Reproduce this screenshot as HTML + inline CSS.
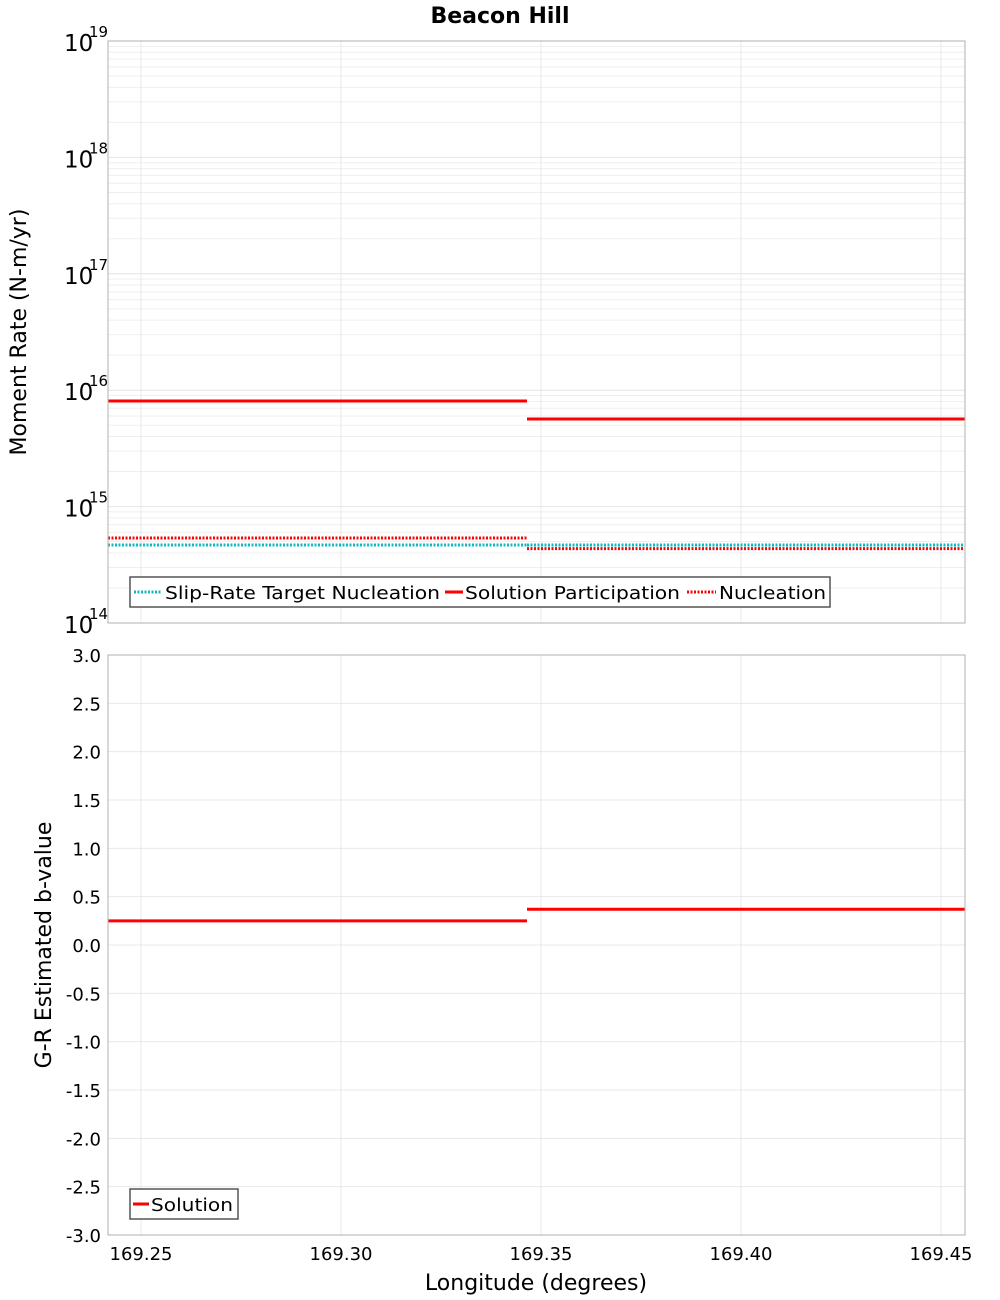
<!DOCTYPE html>
<html><head><meta charset="utf-8"><style>
body{margin:0;background:#fff;width:1000px;height:1300px;overflow:hidden;position:relative}
text{font-family:"DejaVu Sans","Liberation Sans",sans-serif}
</style></head><body>
<svg id="chart" width="1000" height="1300" xmlns="http://www.w3.org/2000/svg" style="position:absolute;left:0;top:0">
<text x="500" y="23" text-anchor="middle" font-size="22" font-weight="bold">Beacon Hill</text>
<g id="topG"></g><g id="botG"></g>
</svg>
<script>
const segStarts=[169.24175,169.3465];
const segEnds=[169.3465,169.456];
const participation=[8.07e15,5.66e15];
const nucleation=[5.37e14,4.35e14];
const targetNucleation=[4.68e14,4.68e14];
const bValues=[0.25,0.37];
const xTicks=[169.25,169.30,169.35,169.40,169.45];
const xTickLabels=["169.25","169.30","169.35","169.40","169.45"];
const yTicksB=[3,2.5,2,1.5,1,0.5,0,-0.5,-1,-1.5,-2,-2.5,-3];
const decades=[14,15,16,17,18,19];

const NS="http://www.w3.org/2000/svg";
const L=108,R=965,T1=41,B1=623,T2=655,B2=1235;
const xMin=169.24175,xMax=169.456;
const xs=v=>L+(v-xMin)/(xMax-xMin)*(R-L);
const ys1=v=>B1-(Math.log10(v)-14)/5*(B1-T1);
const ys2=v=>T2+(3-v)/6*(B2-T2);
function el(p,tag,a,txt){const e=document.createElementNS(NS,tag);for(const k in a)e.setAttribute(k,a[k]);if(txt!==undefined)e.textContent=txt;p.appendChild(e);return e;}
const topG=document.getElementById('topG'),botG=document.getElementById('botG');

for(let d=14;d<19;d++)for(let m=1;m<10;m++){const y=ys1(m*Math.pow(10,d));
 const g=el(topG,'line',{x1:L,x2:R,y1:y,y2:y,stroke:m==1?'#e4e4e4':'#efefef','stroke-width':1});
 
 }
for(const t of xTicks){for(const [p,a,b] of [[topG,T1,B1],[botG,T2,B2]]){
 const g=el(p,'line',{x1:xs(t),x2:xs(t),y1:a,y2:b,stroke:'#e8e8e8'});
 
 }}
for(const v of yTicksB){const g=el(botG,'line',{x1:L,x2:R,y1:ys2(v),y2:ys2(v),stroke:'#e8e8e8'});
 
 
 const t=el(botG,'text',{x:101,y:ys2(v)+7,'text-anchor':'end','font-size':18},v.toFixed(1));
 
 }
for(const d of decades){const y=ys1(Math.pow(10,d));
 const t=el(topG,'text',{x:64,y:y+10,'font-size':23},'10');
 
 
 const s=el(topG,'text',{x:89,y:y-4,'font-size':15},String(d));
 
 }
xTicks.forEach((t,i)=>{const e=el(botG,'text',{x:xs(t),y:1260,'text-anchor':'middle','font-size':18},xTickLabels[i]);
 
 });

segStarts.forEach((s,i)=>{
 const x1=xs(s),x2=xs(segEnds[i]);
 let e=el(topG,'line',{x1,x2,y1:ys1(targetNucleation[i]),y2:ys1(targetNucleation[i]),stroke:'#10b8c0','stroke-width':3,'stroke-dasharray':'2,1.5'});
 
 
 e=el(topG,'line',{x1,x2,y1:ys1(nucleation[i]),y2:ys1(nucleation[i]),stroke:'#f00','stroke-width':3,'stroke-dasharray':'2,1.5'});
 
 
 e=el(topG,'line',{x1,x2,y1:ys1(participation[i]),y2:ys1(participation[i]),stroke:'#f00','stroke-width':3});
 
 
 e=el(botG,'line',{x1,x2,y1:ys2(bValues[i]),y2:ys2(bValues[i]),stroke:'#f00','stroke-width':3});
 
 
});
let f=el(topG,'rect',{x:L,y:T1,width:R-L,height:B1-T1,fill:'none',stroke:'#b0b0b0'});


f=el(botG,'rect',{x:L,y:T2,width:R-L,height:B2-T2,fill:'none',stroke:'#b0b0b0'});


</script>
<svg style="position:absolute;left:0;top:0" width="1000" height="1300" xmlns="http://www.w3.org/2000/svg">
<text transform="translate(26,332) rotate(-90)" text-anchor="middle" font-size="22">Moment Rate (N-m/yr)</text>
<text transform="translate(51,945) rotate(-90)" text-anchor="middle" font-size="22">G-R Estimated b-value</text>
<text x="536" y="1290" text-anchor="middle" font-size="22">Longitude (degrees)</text>
<g>
<rect x="130" y="577" width="700" height="30" fill="#fff" stroke="#555" stroke-width="1.5"/>
<line x1="134" x2="161" y1="592" y2="592" stroke="#10b8c0" stroke-width="3" stroke-dasharray="2,1.5"/>
<text x="165" y="599" font-size="18" textLength="275" lengthAdjust="spacingAndGlyphs">Slip-Rate Target Nucleation</text>
<line x1="445" x2="463" y1="592" y2="592" stroke="#f00" stroke-width="3"/>
<text x="465" y="599" font-size="18" textLength="215" lengthAdjust="spacingAndGlyphs">Solution Participation</text>
<line x1="687" x2="716" y1="592" y2="592" stroke="#f00" stroke-width="3" stroke-dasharray="2,1.5"/>
<text x="719" y="599" font-size="18" textLength="107" lengthAdjust="spacingAndGlyphs">Nucleation</text>
</g>
<g>
<rect x="130" y="1189" width="108" height="30" fill="#fff" stroke="#555" stroke-width="1.5"/>
<line x1="133" x2="149" y1="1204" y2="1204" stroke="#f00" stroke-width="3"/>
<text x="151" y="1211" font-size="18" textLength="82" lengthAdjust="spacingAndGlyphs">Solution</text>
</g>
</svg>
</body></html>
